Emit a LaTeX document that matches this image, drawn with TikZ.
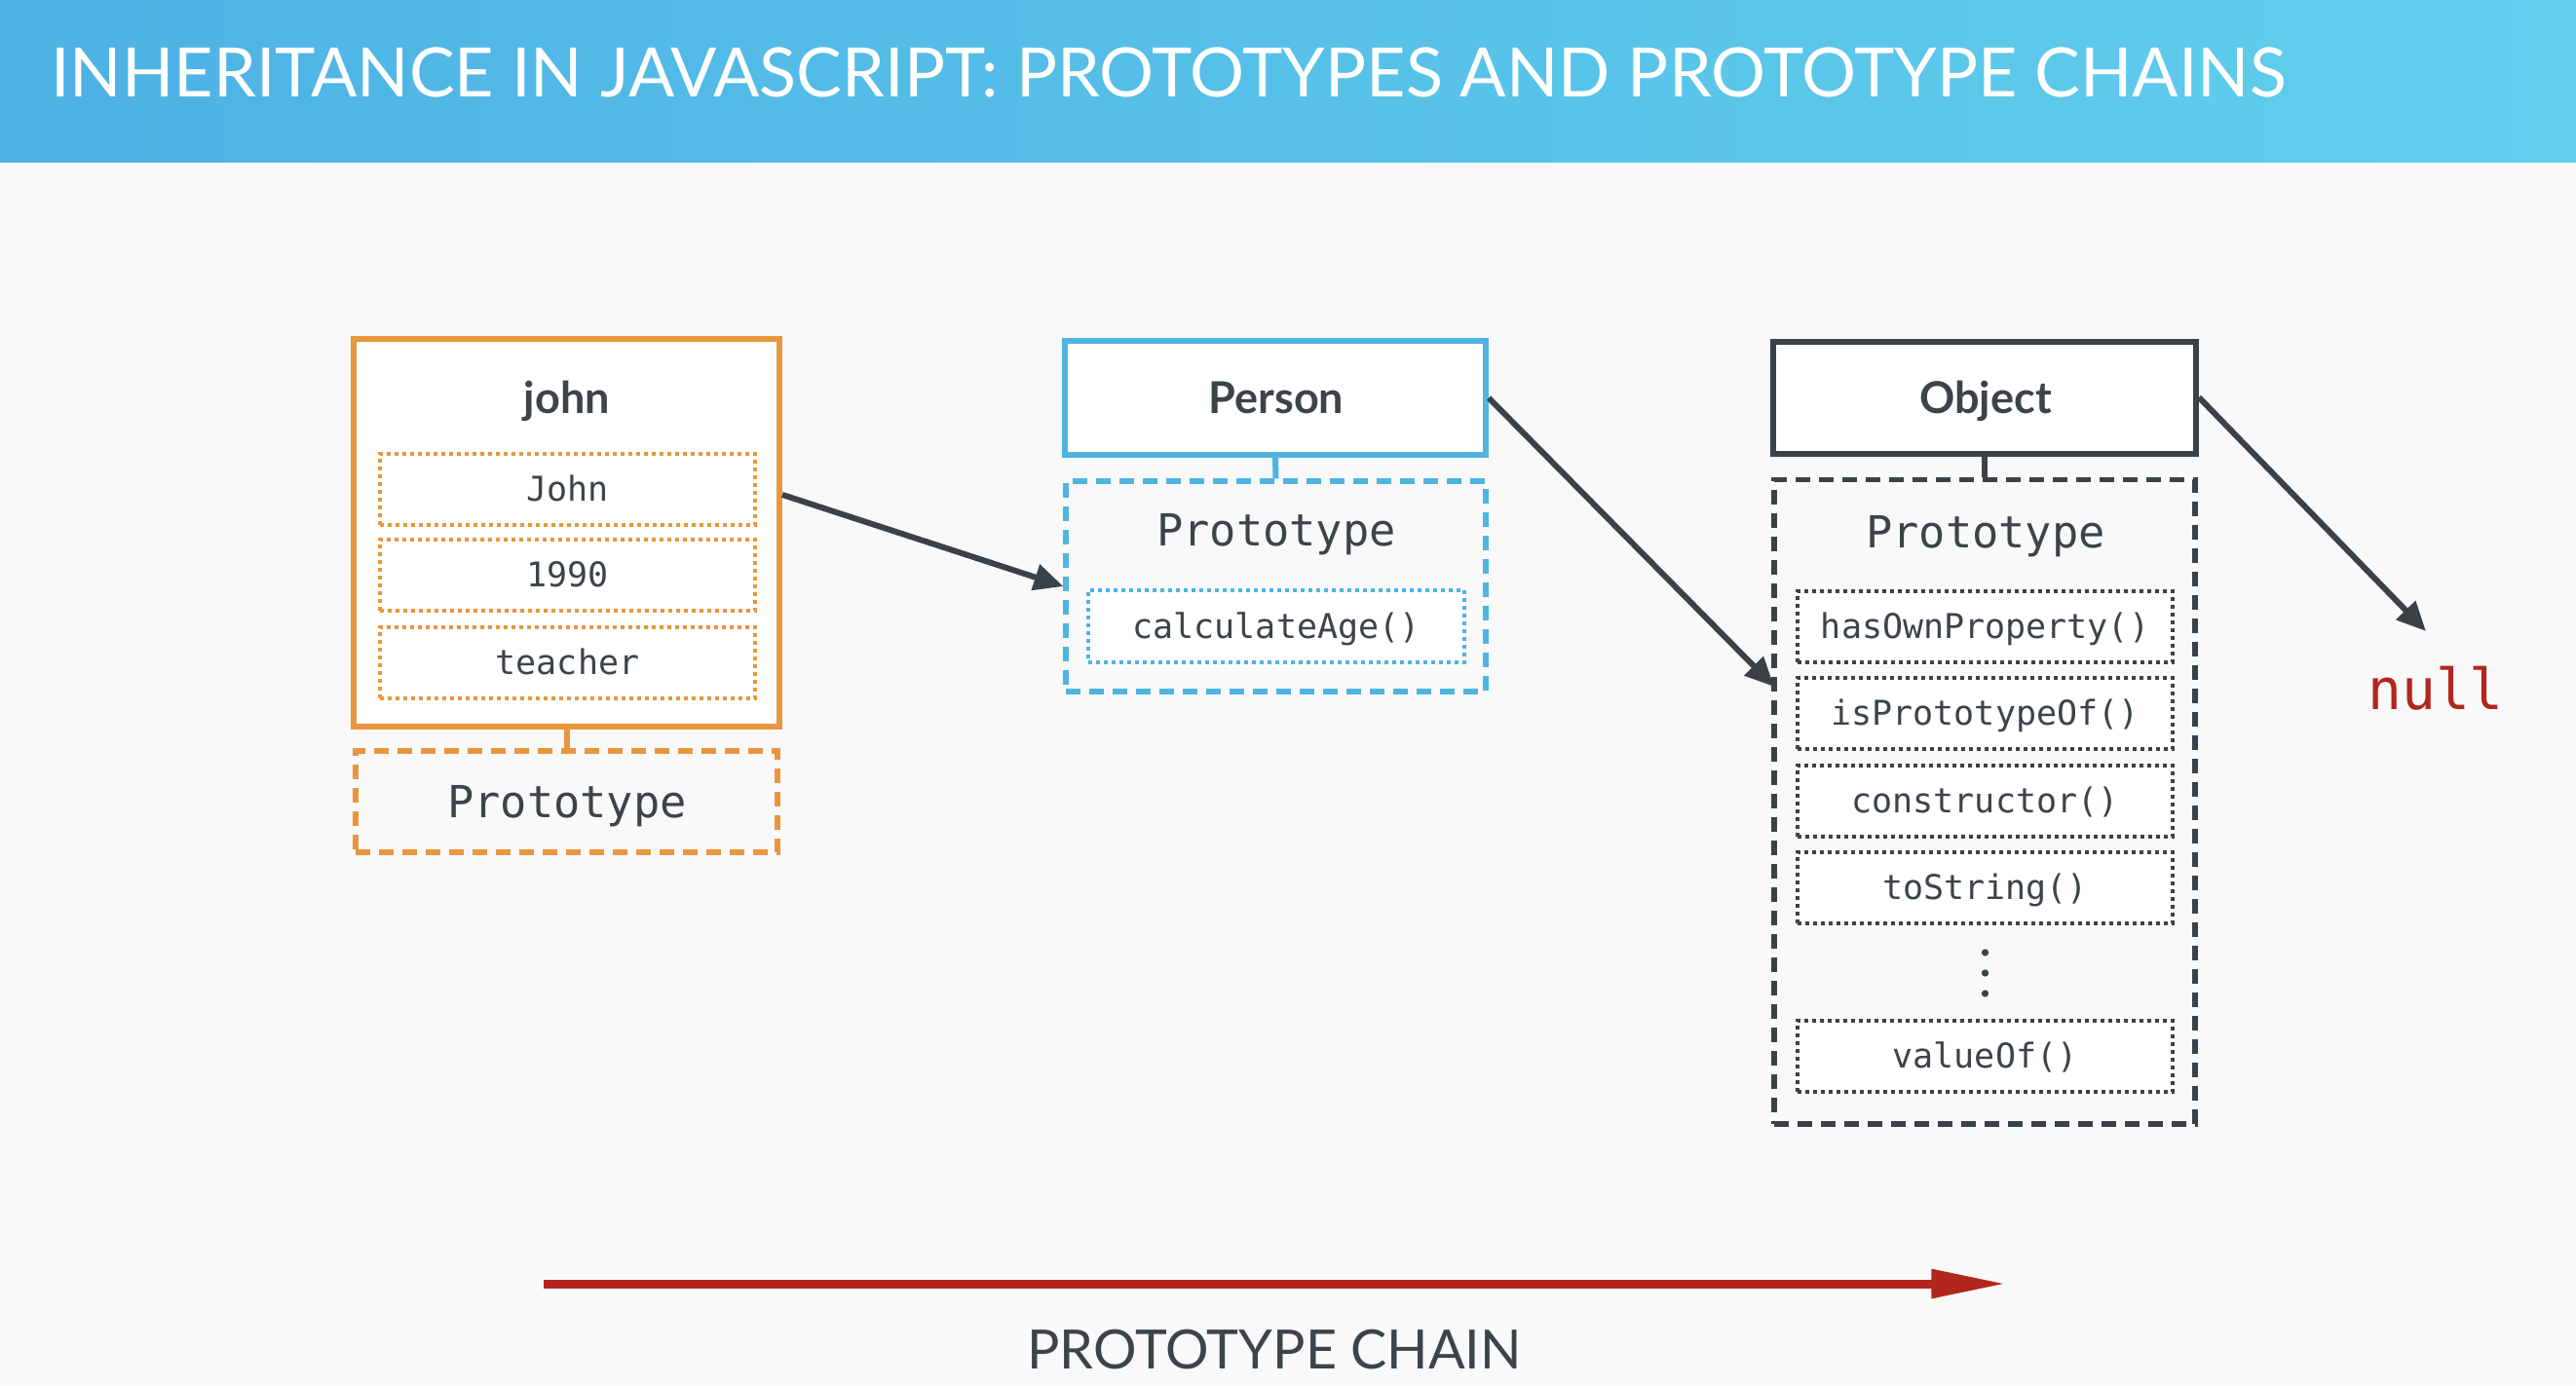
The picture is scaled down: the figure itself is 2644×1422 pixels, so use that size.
\documentclass[tikz,border=0pt]{standalone}
\usepackage{fontspec}
\setmainfont{Lato}
\setmonofont{DejaVu Sans Mono}
\usetikzlibrary{arrows.meta}

\definecolor{jsorange}{RGB}{233,150,62}
\definecolor{jsblue}{RGB}{78,181,224}
\definecolor{jsdark}{RGB}{58,66,71}
\definecolor{jstext}{RGB}{58,68,73}
\definecolor{jsred}{RGB}{178,38,30}
\definecolor{jsbg}{RGB}{249,249,249}
\definecolor{hdleft}{RGB}{77,178,228}
\definecolor{hdright}{RGB}{96,207,236}

\tikzset{every picture/.style={line width=0.75pt},
  objbox/.style={draw, line width=1.8pt, fill=white, inner sep=0pt},
  protobox/.style={draw, line width=1.6pt, dash pattern={on 4.5pt off 2.7pt}, inner sep=0pt},
  propbox/.style={draw, line width=1.2pt, dash pattern={on 1.2pt off 1.2pt}, fill=white, inner sep=0pt,
    minimum width=115.5pt, minimum height=21.9pt, text=jstext, text height=0.73em, text depth=0pt,
    font=\ttfamily\fontsize{10.5}{12}\selectfont},
  headtext/.style={inner sep=0pt, text=jstext, font=\bfseries\fontsize{13.5}{15}\selectfont},
  prototext/.style={inner sep=0pt, text=jstext, font=\ttfamily\fontsize{13.6}{15}\selectfont},
  stub/.style={line width=1.8pt},
  link/.style={draw=jsdark, line width=1.8pt, -{Triangle[length=9pt,width=8pt]}},
}

\begin{document}
\begin{tikzpicture}[x=0.3pt,y=0.3pt,yscale=-1,xscale=1]
\useasboundingbox (0,0) rectangle (2644,1422);
\fill [jsbg] (0,0) rectangle (2644,1422);

%Header band
\shade [left color=hdleft, right color=hdright] (0,0) rectangle (2644,167);
\node (title) [anchor=base west, inner sep=0pt, text=white, font=\fontsize{21}{24}\selectfont] at (51,100) {INHERITANCE IN JAVASCRIPT: PROTOTYPES AND PROTOTYPE CHAINS};

%john
\node (johnbox) [objbox, draw=jsorange, minimum width=131.1pt, minimum height=119.4pt] at (581.5,547) {};
\node (johnname) [headtext, anchor=base] at (582,424) {john};
\node (johnfirst) [propbox, draw=jsorange] at (582.5,502) {John};
\node (johnyear) [propbox, draw=jsorange] at (582.5,590.5) {1990};
\node (johnjob) [propbox, draw=jsorange] at (582.5,680) {teacher};
\node (johnproto) [protobox, draw=jsorange, minimum width=129.9pt, minimum height=31.2pt] at (581.5,823) {};
\node (johnprotoname) [prototext, anchor=base] at (582,839) {Prototype};
\draw [stub, jsorange] (johnbox.south) -- (johnproto.north);

%Person
\node (personbox) [objbox, draw=jsblue, minimum width=129.6pt, minimum height=35.1pt] at (1309,408.5) {};
\node (personname) [headtext, anchor=base] at (1310,424) {Person};
\node (personproto) [protobox, draw=jsblue, minimum width=129.3pt, minimum height=64.8pt] at (1309.5,602) {};
\node (personprotoname) [prototext, anchor=base] at (1310,560) {Prototype};
\node (calcage) [propbox, draw=jsblue, minimum width=115.8pt, minimum height=22.2pt] at (1310,643) {calculateAge()};
\draw [stub, jsblue] (personbox.south) -- (personproto.north);

%Object
\node (objbox) [objbox, draw=jsdark, minimum width=130.2pt, minimum height=34.5pt] at (2037,408) {};
\node (objname) [headtext, anchor=base] at (2038,424) {Object};
\node (objproto) [protobox, draw=jsdark, minimum width=129.6pt, minimum height=198.4pt] at (2037,823.3) {};
\node (objprotoname) [prototext, anchor=base] at (2038,562) {Prototype};
\node (hasown) [propbox, draw=jsdark] at (2037.5,643) {hasOwnProperty()};
\node (isproto) [propbox, draw=jsdark] at (2037.5,732) {isPrototypeOf()};
\node (ctor) [propbox, draw=jsdark] at (2037.5,822) {constructor()};
\node (tostr) [propbox, draw=jsdark] at (2037.5,911) {toString()};
\node (valof) [propbox, draw=jsdark] at (2037.5,1084.5) {valueOf()};
\fill [jstext] (2037.5,978) circle (1.1pt);
\fill [jstext] (2037.5,999) circle (1.1pt);
\fill [jstext] (2037.5,1020) circle (1.1pt);
\draw [stub, jsdark] (objbox.south) -- (objproto.north);

%null
\node (nullval) [anchor=base, inner sep=0pt, text=jsred, font=\ttfamily\fontsize{17.4}{20}\selectfont] at (2500,728) {null};
\coordinate (objin) at (1821,705);
\coordinate (nullin) at (2490,648);

%Links
\draw [link] (johnbox.10) -- (personproto.west);
\draw [link] (personbox.east) -- (objin);
\draw [link] (objbox.east) -- (nullin);

%Prototype chain
\coordinate (chainstart) at (558,1318);
\coordinate (chainend) at (2059,1318);
\draw [jsred, line width=2.7pt, -{Triangle[length=23pt,width=8.4pt]}] (chainstart) -- (chainend);
\node (chainlabel) [anchor=base, inner sep=0pt, text=jstext, font=\fontsize{16.7}{19}\selectfont] at (1308,1405) {PROTOTYPE CHAIN};

\end{tikzpicture}
\end{document}
